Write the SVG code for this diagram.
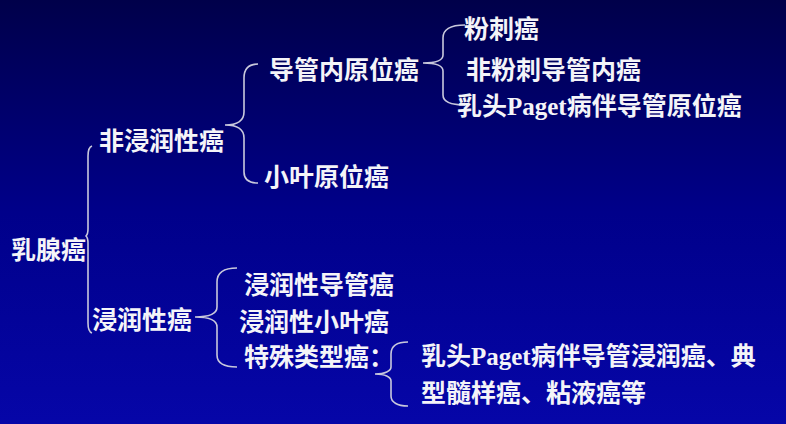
<svg xmlns="http://www.w3.org/2000/svg" width="786" height="424" viewBox="0 0 786 424">
<defs>
<linearGradient id="bg" x1="0" y1="0" x2="0" y2="1">
<stop offset="0" stop-color="#00004a"/>
<stop offset="0.5" stop-color="#00008a"/>
<stop offset="1" stop-color="#0606a8"/>
</linearGradient>
</defs>
<style>
text{font-family:"Liberation Serif","Noto Sans CJK SC",serif;font-size:25px;fill:#f4f4f8;font-weight:bold}
.br{fill:none;stroke:#c8c8dc;stroke-width:1.6}
</style>
<rect width="786" height="424" fill="url(#bg)"/>
<g id="connectors">
<path class="br" d="M92,146 C89,147 88,150 88,156 L88,229 C88,233 87,235 86,236 C87,237 88,239 88,243 L88,323 C88,329 89,332 92,333"/>
<path class="br" d="M258,64 C250,64 244,68 244,78 L244,112 C244,120 238,125 225,125 C238,125 244,130 244,138 L244,172 C244,180 250,183 258,183"/>
<path class="br" d="M465,25 C452,25 443,28 443,38 L443,55 C443,60 438,63 423,63 C438,63 443,66 443,71 L443,95 C443,102 450,105 465,105"/>
<path class="br" d="M237,268 C224,268 217,272 217,282 L217,307 C217,313 210,317 195,317 C210,317 217,321 217,327 L217,355 C217,363 224,367 237,367"/>
<path class="br" d="M408,342 C397,342 391,346 391,354 L391,367 C391,371 385,374 375,374 C385,374 391,377 391,381 L391,396 C391,402 397,406 408,406"/>
</g>
<g id="n-root"><text x="11" y="259">乳腺癌</text></g>
<g id="n-noninv"><text x="99" y="150">非浸润性癌</text></g>
<g id="n-dcis"><text x="269" y="79">导管内原位癌</text></g>
<g id="n-lcis"><text x="264" y="186">小叶原位癌</text></g>
<g id="n-comedo"><text x="464" y="38">粉刺癌</text></g>
<g id="n-noncomedo"><text x="466" y="79">非粉刺导管内癌</text></g>
<g id="n-paget1"><text x="457" y="115">乳头Paget病伴导管原位癌</text></g>
<g id="n-inv"><text x="92" y="329">浸润性癌</text></g>
<g id="n-idc"><text x="244" y="294">浸润性导管癌</text></g>
<g id="n-ilc"><text x="239" y="331">浸润性小叶癌</text></g>
<g id="n-special"><text x="244" y="366">特殊类型癌：</text></g>
<g id="n-special-list"><text x="421" y="365">乳头Paget病伴导管浸润癌、典</text><text x="421" y="402">型髓样癌、粘液癌等</text></g>
</svg>
